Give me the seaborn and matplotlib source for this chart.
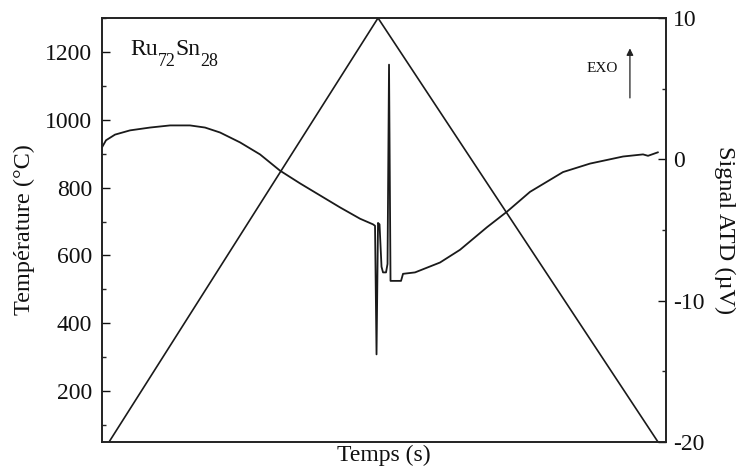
import matplotlib
matplotlib.use("Agg")
import matplotlib.pyplot as plt
import numpy as np
import pandas as pd
import seaborn as sns

# rampe de température (triangle chauffe / refroidissement)
tri_time = [70, 2760, 5560]
tri_temp = [50, 1300, 50]

# signal ATD
dta_time = [0, 40, 130, 280, 480, 680, 880, 1030, 1180, 1380, 1580, 1780, 1980,
            2180, 2380, 2580, 2710, 2730, 2745, 2760, 2775, 2795, 2810, 2840,
            2855, 2870, 2885, 2990, 3010, 3130, 3380, 3580, 3850, 4050, 4280,
            4610, 4880, 5210, 5410, 5460, 5560]
dta_signal = [0.85, 1.35, 1.75, 2.05, 2.25, 2.4, 2.4, 2.25, 1.9, 1.2, 0.35, -0.8,
              -1.7, -2.55, -3.4, -4.2, -4.6, -4.7, -13.8, -4.5, -4.6, -7.6, -8.0,
              -8.0, -7.4, 6.7, -8.6, -8.6, -8.1, -8.0, -7.3, -6.4, -4.8, -3.7,
              -2.3, -0.9, -0.3, 0.2, 0.35, 0.25, 0.5]

left_ticks = [200, 400, 600, 800, 1000, 1200]
right_ticks = [-20, -10, 0, 10]

sns.set_theme(style="ticks")
plt.rcParams['font.family'] = ['Liberation Serif', 'DejaVu Serif']
plt.rcParams['axes.unicode_minus'] = False

colorLine = '#1a1a1a'
colorText = '#111111'

df_tri = pd.DataFrame({'t': tri_time, 'T': tri_temp})
df_dta = pd.DataFrame({'t': dta_time, 'S': dta_signal})

fig = plt.figure(figsize=(7.42, 4.74), dpi=100)
ax = fig.add_axes([0.1375, 0.0675, 0.7601, 0.8945])
ax2 = ax.twinx()

sns.lineplot(data=df_tri, x='t', y='T', ax=ax, color=colorLine, lw=1.2,
             estimator=None, sort=False)
sns.lineplot(data=df_dta, x='t', y='S', ax=ax2, color=colorLine, lw=1.3,
             estimator=None, sort=False)

ax.set_xlim(0, 5640)
ax.set_ylim(50, 1300)
ax2.set_ylim(-20, 10)

# axe gauche
ax.set_yticks(left_ticks)
ax.set_yticks(np.arange(100, 1301, 100), minor=True)
ax.set_xticks([])
ax.tick_params(axis='y', which='major', direction='in', length=6, width=1,
               labelsize=17, pad=7, colors=colorText)
ax.tick_params(axis='y', which='minor', direction='in', length=3, width=1)
ax.set_ylabel('Température (°C)', fontsize=17.5, color=colorText, labelpad=7)
ax.set_xlabel('Temps (s)', fontsize=17, color=colorText, labelpad=2)

# axe droit
ax2.set_yticks(right_ticks)
ax2.set_yticks(np.arange(-20, 11, 5), minor=True)
ax2.tick_params(axis='y', which='major', direction='in', length=6, width=1,
                labelsize=17, pad=5, colors=colorText)
ax2.tick_params(axis='y', which='minor', direction='in', length=3, width=1)
ax2.set_ylabel('Signal ATD (µV)', fontsize=17.5, color=colorText, rotation=270,
               labelpad=22)

for a in (ax, ax2):
    for sp in a.spines.values():
        sp.set_visible(True)
        sp.set_linewidth(1.2)
        sp.set_color('#222222')

# Ru72Sn28 avec indices bien descendus
t_ru = ax.text(0.05, 0.913, 'Ru', transform=ax.transAxes, fontsize=17,
               ha='left', va='baseline', color=colorText)
t_72 = ax.annotate('72', xy=(1, 0), xycoords=t_ru, xytext=(0, -1),
                   textcoords='offset points', fontsize=13, ha='left',
                   va='center', color=colorText)
t_sn = ax.annotate('Sn', xy=(1, 0), xycoords=(t_72, t_ru), fontsize=17,
                   ha='left', va='bottom', color=colorText)
ax.annotate('28', xy=(1, 0), xycoords=t_sn, xytext=(0, -1),
            textcoords='offset points', fontsize=13, ha='left', va='center',
            color=colorText)

ax.text(0.8865, 0.88, 'EXO', transform=ax.transAxes, fontsize=11,
        ha='center', va='center', color=colorText)
ax.annotate('', xy=(0.936, 0.935), xytext=(0.936, 0.805),
            xycoords='axes fraction', textcoords='axes fraction',
            arrowprops=dict(arrowstyle='-|>', color='#222222', lw=0.9,
                            mutation_scale=10))

fig.savefig('out.png', dpi=100)
